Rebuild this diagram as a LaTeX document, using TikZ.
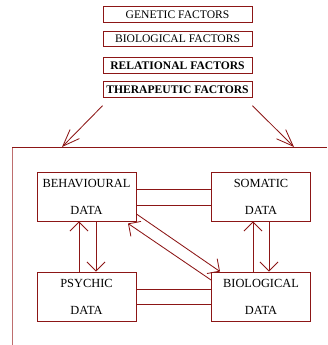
\documentclass[tikz,border=0pt]{standalone}
\usepackage{fontspec}
\setmainfont{Liberation Serif}
\usetikzlibrary{arrows.meta}
\definecolor{dred}{RGB}{140,22,22}
\definecolor{lred}{RGB}{190,110,110}
\begin{document}
\begin{tikzpicture}[x=1pt,y=-1pt,
  factor/.style={draw=dred,line width=0.9pt,fill=white,minimum width=149pt,minimum height=15.5pt,inner sep=0pt,font=\fontsize{11.6}{13}\selectfont,text=black},
  databox/.style={draw=dred,line width=0.9pt,fill=white,minimum width=99pt,minimum height=49pt,inner sep=0pt,align=center,font=\fontsize{12.4}{27}\selectfont,text=black},
  link/.style={draw=dred,line width=0.85pt},
  vtip/.style={-{Straight Barb[length=9pt,width=18pt]}},
  ttip/.style={-{Straight Barb[length=17pt,width=13pt]}}]
\useasboundingbox (0,0) rectangle (327,345);
% factor boxes
\node[factor] (gen) at (177.5,14.5) {GENETIC FACTORS};
\node[factor] (bio) at (177.5,39.2) {BIOLOGICAL FACTORS};
\node[factor,font=\fontsize{11.6}{13}\selectfont\bfseries] (rel) at (177.5,65.3) {RELATIONAL FACTORS};
\node[factor,font=\fontsize{11.6}{13}\selectfont\bfseries] (ther) at (177.5,89.5) {THERAPEUTIC FACTORS};
% frame
\coordinate (fbl) at (12,345);
\coordinate (ftl) at (12,147);
\coordinate (ftr) at (327,147);
\coordinate (a1) at (62,147);
\coordinate (a2) at (294,147);
\draw[lred,line width=1pt] (fbl) -- (ftl);
\draw[dred,line width=0.9pt] (ftl) -- (ftr);
\draw[link,ttip] ([yshift=-8pt]ther.south west) -- (a1);
\draw[link,ttip] ([yshift=-8pt]ther.south east) -- (a2);
% data boxes
\node[databox] (beh) at (86.5,196.5) {BEHAVIOURAL\\DATA};
\node[databox] (som) at (261,196.5) {SOMATIC\\DATA};
\node[databox] (psy) at (86.5,296.5) {PSYCHIC\\DATA};
\node[databox] (bld) at (261,296.5) {BIOLOGICAL\\DATA};
% connectors
\draw[link] ([yshift=7.5pt]beh.east) -- ([yshift=7.5pt]som.west);
\draw[link] ([yshift=-8.5pt]beh.east) -- ([yshift=-8.5pt]som.west);
\draw[link] ([yshift=7.5pt]psy.east) -- ([yshift=7.5pt]bld.west);
\draw[link] ([yshift=-7.5pt]psy.east) -- ([yshift=-7.5pt]bld.west);
\draw[link,vtip] ([xshift=-7.5pt]psy.north) -- ([xshift=-7.5pt]beh.south);
\draw[link,vtip] ([xshift=9.5pt]beh.south) -- ([xshift=9.5pt]psy.north);
\draw[link,vtip] ([xshift=-8pt]bld.north) -- ([xshift=-8pt]som.south);
\draw[link,vtip] ([xshift=8pt]som.south) -- ([xshift=8pt]bld.north);
\draw[link,vtip] ([yshift=-17.5pt]beh.east) -- ([xshift=-41pt]bld.north);
\draw[link,vtip] ([yshift=16.5pt]bld.west) -- ([xshift=41.5pt,yshift=-2pt]beh.south);
\end{tikzpicture}
\end{document}
